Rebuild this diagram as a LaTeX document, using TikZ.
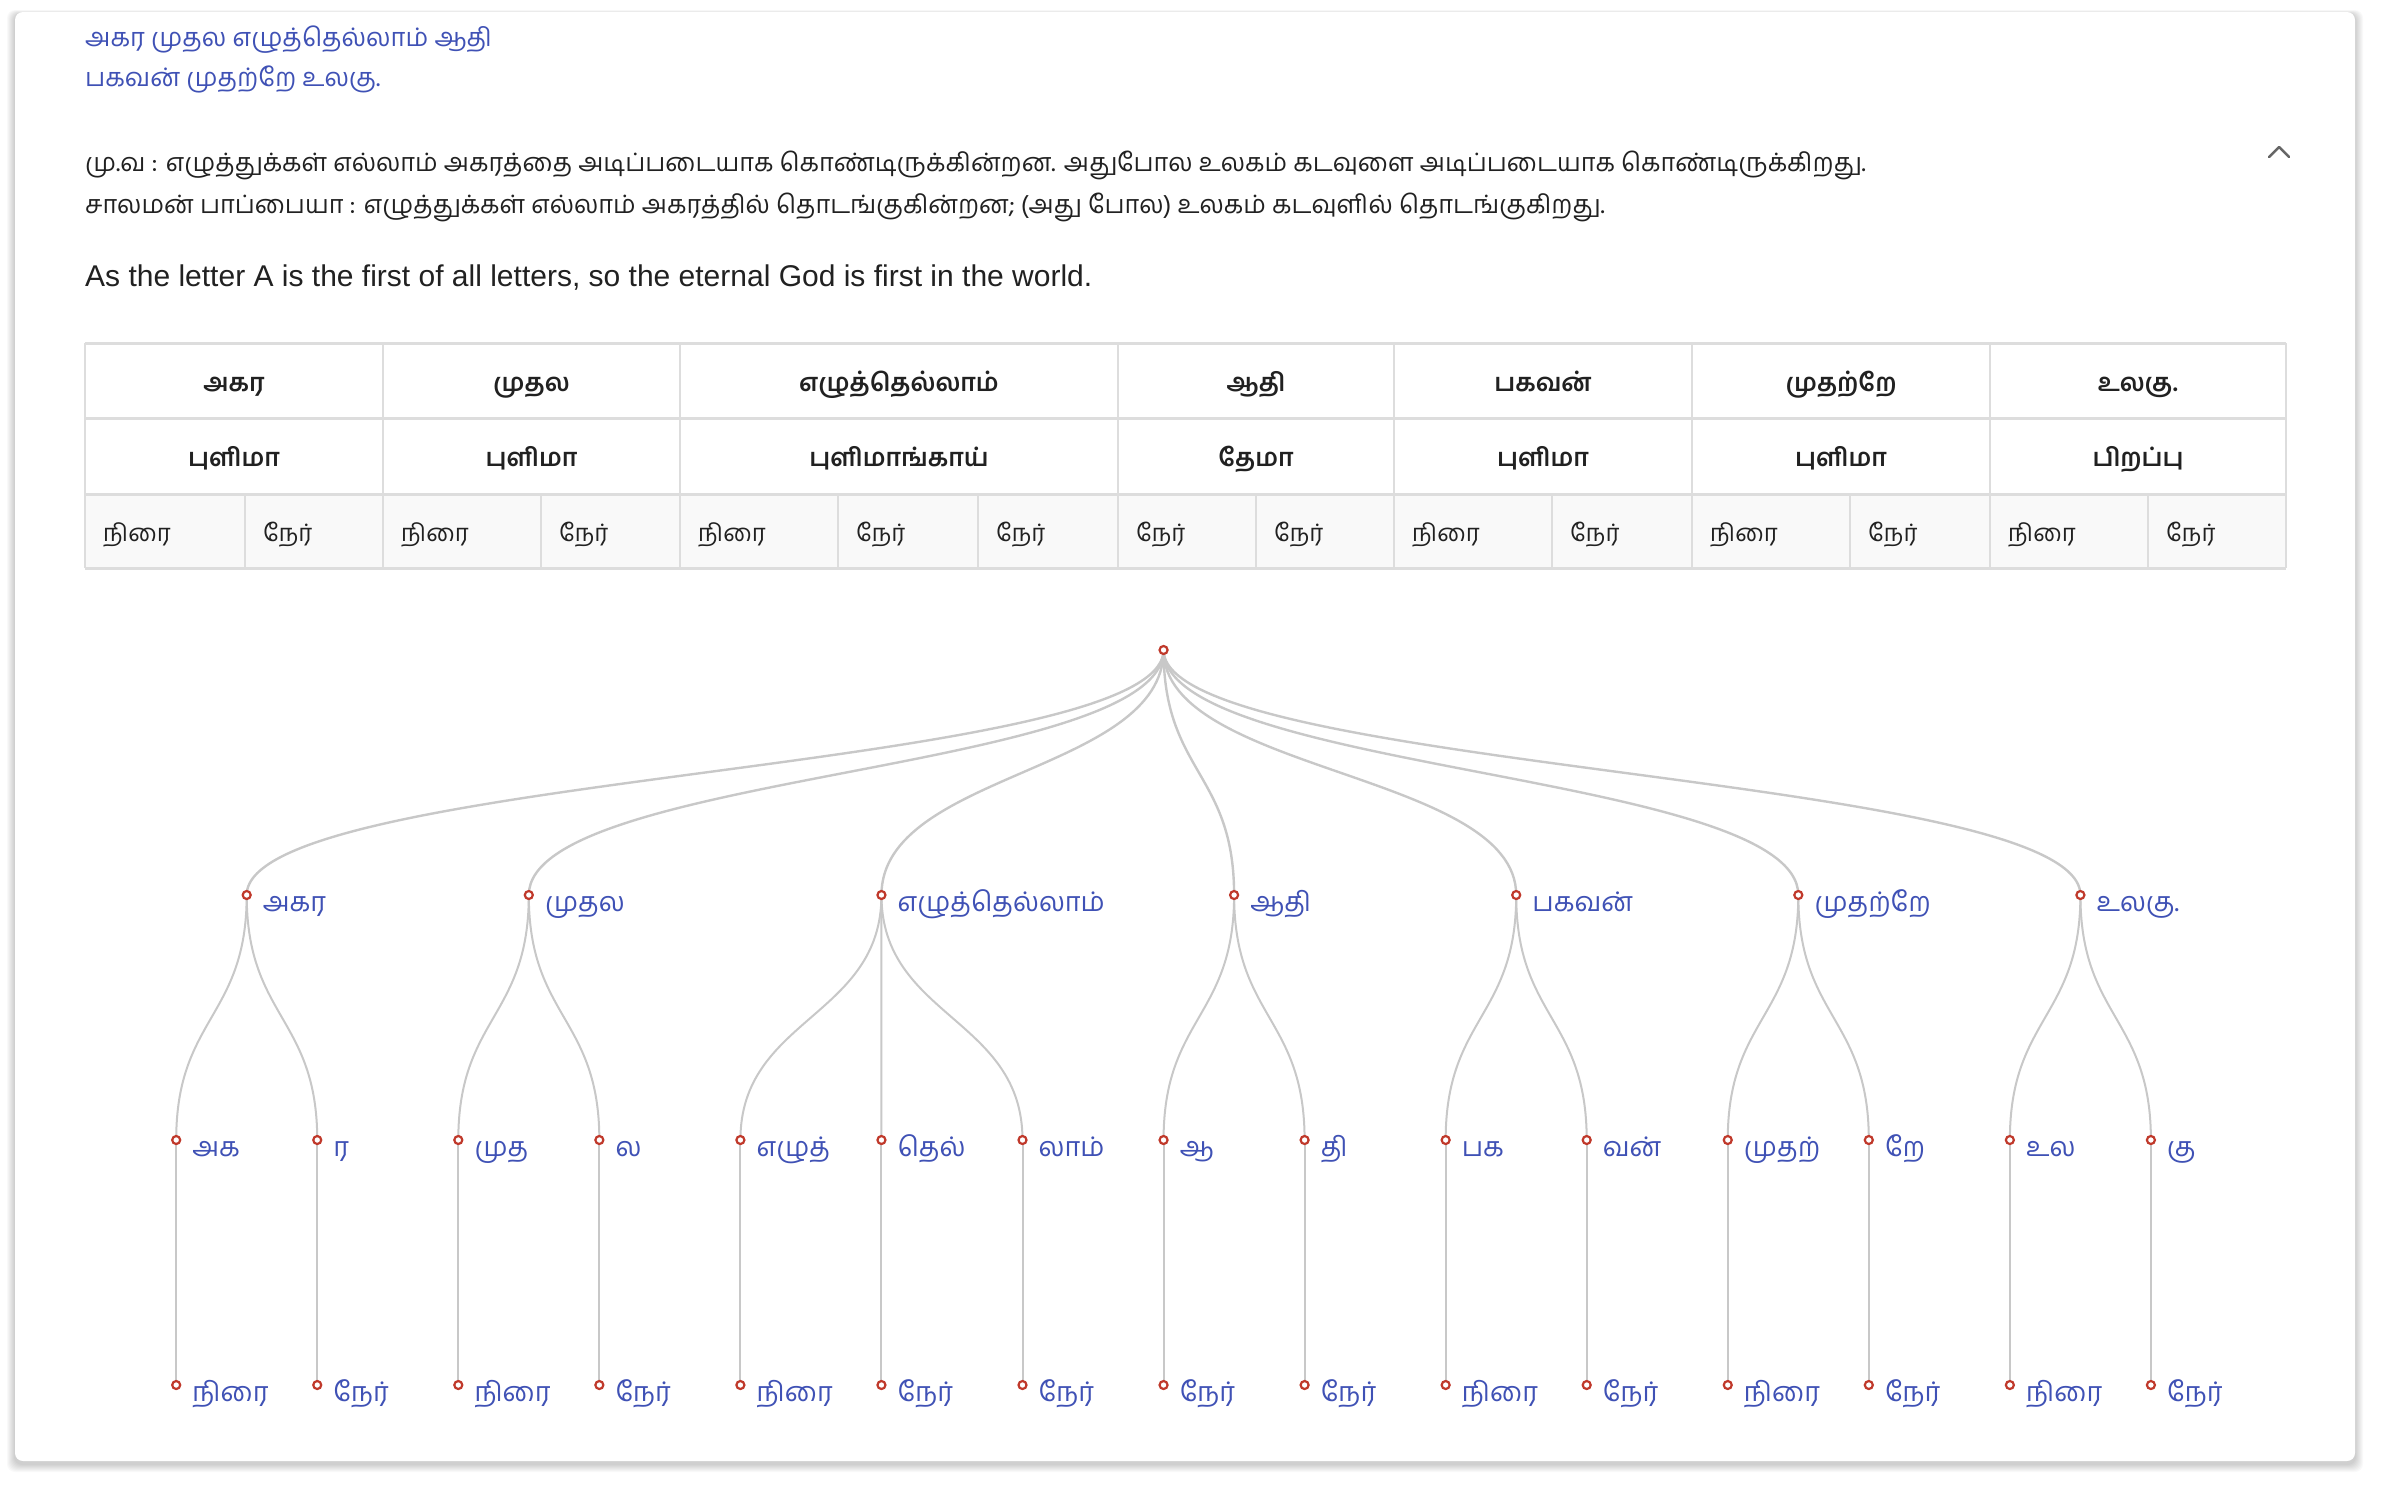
\documentclass[tikz,border=0pt]{standalone}
\usepackage{fontspec}
\setmainfont{Liberation Sans}
\newfontfamily\tam[Script=Tamil]{Hind Madurai}
\usetikzlibrary{calc}
\definecolor{tblue}{RGB}{63,81,181}
\definecolor{dotred}{RGB}{192,57,43}
\definecolor{linkgray}{RGB}{200,200,200}
\definecolor{bordergray}{RGB}{221,221,221}
\definecolor{txt}{RGB}{33,33,33}
\definecolor{rowgray}{RGB}{249,249,249}
\pgfdeclarelayer{back}
\pgfdeclarelayer{bg}
\pgfsetlayers{back,bg,main}
\begin{document}
\begin{tikzpicture}[x=1pt,y=-1pt,
  tdot/.style={circle, draw=dotred, fill=white, line width=2.2pt, inner sep=0pt, minimum size=8pt},
  link/.style={draw=linkgray, line width=2.4pt},
  tlbl/.style={font={\tam\fontsize{27}{32}\selectfont}, text=tblue, inner sep=0pt, anchor=base west},
  titletext/.style={font={\tam\fontsize{25.5}{31}\selectfont}, text=tblue, inner sep=0pt, anchor=base west},
  paratext/.style={font={\tam\fontsize{25.3}{31}\selectfont}, text=txt, inner sep=0pt, anchor=base west},
  engtext/.style={font={\fontsize{30}{36}\selectfont}, text=txt, inner sep=0pt, anchor=west},
  headtext/.style={font={\tam\bfseries\fontsize{25}{31}\selectfont}, text=txt, inner sep=0pt, anchor=base},
  celltext/.style={font={\tam\fontsize{24}{30}\selectfont}, text=txt, inner sep=0pt, anchor=base west},
  hline/.style={draw=bordergray, line width=3pt},
  vline/.style={draw=bordergray, line width=1.5pt}
]
\useasboundingbox (0,0) rectangle (2382,1484);
\begin{pgfonlayer}{back}
\fill[white] (0,0) rectangle (2382,1484);
\foreach \i in {1,...,8}{
  \fill[black, opacity=0.025, rounded corners=8pt] (15-\i,12-0.5*\i+2) rectangle (2355+\i,1461+\i+3);
}
\fill[white, rounded corners=8pt] (15,12) rectangle (2355,1461);
\end{pgfonlayer}

% chevron
\draw[black!60, line width=2.5pt, line cap=round, line join=round] (2269,157) -- (2279,147) -- (2289,157);

% title and texts
\node[titletext] (t1) at (85,46) {அகர முதல எழுத்தெல்லாம் ஆதி};
\node[titletext] (t2) at (85,86) {பகவன் முதற்றே உலகு.};
\node[paratext] (p1) at (85,171) {மு.வ : எழுத்துக்கள் எல்லாம் அகரத்தை அடிப்படையாக கொண்டிருக்கின்றன. அதுபோல உலகம் கடவுளை அடிப்படையாக கொண்டிருக்கிறது.};
\node[paratext] (p2) at (85,213) {சாலமன் பாப்பையா : எழுத்துக்கள் எல்லாம் அகரத்தில் தொடங்குகின்றன; (அது போல) உலகம் கடவுளில் தொடங்குகிறது.};
\node[engtext] (e1) at (85,278) {As the letter A is the first of all letters, so the eternal God is first in the world.};

% table
\fill[rowgray] (85,494) rectangle (2286,568);
\foreach \x in {85,383,680,1118,1394,1692,1990,2286}{
  \draw[vline] (\x,343) -- (\x,494);
}
\foreach \x in {85,245,383,541,680,838,978,1118,1256,1394,1552,1692,1850,1990,2148,2286}{
  \draw[vline] (\x,494) -- (\x,568);
}
\foreach \y in {343,418,494,568}{
  \draw[hline] (85,\y) -- (2286,\y);
}
\foreach \a/\b/\w/\f [count=\k] in {85/383/அகர/புளிமா, 383/680/முதல/புளிமா, 680/1118/எழுத்தெல்லாம்/புளிமாங்காய், 1118/1394/ஆதி/தேமா, 1394/1692/பகவன்/புளிமா, 1692/1990/முதற்றே/புளிமா, 1990/2286/உலகு./பிறப்பு}{
  \node[headtext] (hw\k) at ({(\a+\b)/2},391) {\w};
  \node[headtext] (hf\k) at ({(\a+\b)/2},466.5) {\f};
}
\foreach \x/\s [count=\k] in {85/நிரை,245/நேர்,383/நிரை,541/நேர்,680/நிரை,838/நேர்,978/நேர்,1118/நேர்,1256/நேர்,1394/நிரை,1552/நேர்,1692/நிரை,1850/நேர்,1990/நிரை,2148/நேர்}{
  \node[celltext] (cs\k) at (\x+18,541.5) {\s};
}

% tree
\node[tdot] (r) at (1163.55,650) {};
\foreach \n/\x/\lab in {1/246.7/அகர, 2/528.8/முதல, 3/881.45/எழுத்தெல்லாம், 4/1234.1/ஆதி, 5/1516.2/பகவன், 6/1798.3/முதற்றே, 7/2080.4/உலகு.}{
  \node[tdot] (a\n) at (\x,895) {};
  \node[tlbl] (la\n) at ([xshift=16pt,yshift=-16pt]a\n.center) {\lab};
  \begin{pgfonlayer}{bg}
  \path (r.center) -- (a\n.center) coordinate[pos=0.5] (m);
  \draw[link] (r.center) .. controls (r.center |- m) and (a\n.center |- m) .. (a\n.center);
  \end{pgfonlayer}
}
\foreach \n/\p/\lab/\mm in {0/1/அக/நிரை, 1/1/ர/நேர், 2/2/முத/நிரை, 3/2/ல/நேர், 4/3/எழுத்/நிரை, 5/3/தெல்/நேர், 6/3/லாம்/நேர், 7/4/ஆ/நேர், 8/4/தி/நேர், 9/5/பக/நிரை, 10/5/வன்/நேர், 11/6/முதற்/நிரை, 12/6/றே/நேர், 13/7/உல/நிரை, 14/7/கு/நேர்}{
  \pgfmathsetmacro\xx{176.2+141.05*\n}
  \node[tdot] (b\n) at (\xx,1140) {};
  \node[tdot] (c\n) at (\xx,1385) {};
  \node[tlbl] (lb\n) at ([xshift=16pt,yshift=-16pt]b\n.center) {\lab};
  \node[tlbl] (lc\n) at ([xshift=16pt,yshift=-16pt]c\n.center) {\mm};
  \begin{pgfonlayer}{bg}
  \path (a\p.center) -- (b\n.center) coordinate[pos=0.5] (m);
  \draw[link, line width=2pt] (a\p.center) .. controls (a\p.center |- m) and (b\n.center |- m) .. (b\n.center);
  \draw[link, line width=2pt] (b\n.center) -- (c\n.center);
  \end{pgfonlayer}
}
\end{tikzpicture}
\end{document}
